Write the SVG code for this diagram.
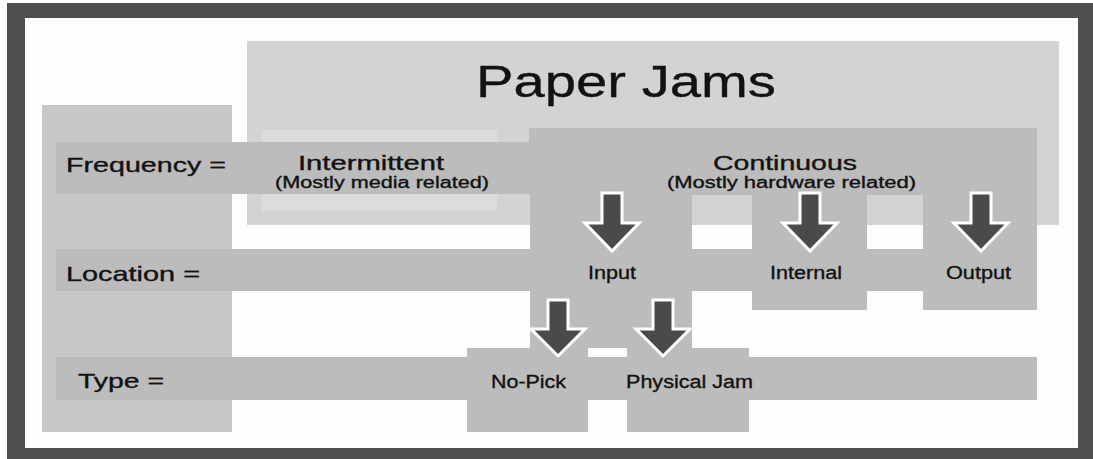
<svg xmlns="http://www.w3.org/2000/svg" width="1093" height="459" viewBox="0 0 1093 459">
  <defs>
    <style>
      .band { fill: #bcbcbc; }
      .col { fill: #bcbcbc; }
      .lbl { font-family: "Liberation Sans", Arial, sans-serif; fill: #121212; stroke: #121212; stroke-width: 0.35; }
      .row { font-size: 21px; }
      .big { font-size: 20px; }
      .sub { font-size: 16px; }
      .item { font-size: 18px; }
      .arrow { fill: #4a4a4a; stroke: #ffffff; stroke-width: 3; stroke-linejoin: miter; }
    </style>
  </defs>

  <g id="frame">
    <rect x="7" y="3" width="1086" height="456" fill="#4f4f4f"/>
    <rect x="25" y="18" width="1053" height="430" fill="#fdfdfd"/>
  </g>

  <g id="background">
    <rect x="247" y="41" width="812" height="184" fill="#d3d3d3"/>
    <rect x="262" y="130" width="235" height="81" fill="#dcdcdc"/>
    <rect x="42" y="105" width="190" height="327" fill="#c7c7c7"/>
  </g>

  <g id="title">
    <text class="lbl" x="476" y="97" font-size="45" stroke-width="0.2" textLength="300" lengthAdjust="spacingAndGlyphs">Paper Jams</text>
  </g>

  <g id="frequency-row">
    <rect class="band" x="56" y="142" width="981" height="52"/>
    <text class="lbl row" x="66" y="172" textLength="160" lengthAdjust="spacingAndGlyphs">Frequency =</text>
  </g>

  <g id="location-row">
    <rect class="band" x="56" y="249" width="981" height="42"/>
    <text class="lbl row" x="66" y="281" textLength="134" lengthAdjust="spacingAndGlyphs">Location =</text>
  </g>

  <g id="type-row">
    <rect class="band" x="56" y="357" width="981" height="43"/>
    <text class="lbl row" x="78" y="388" textLength="86" lengthAdjust="spacingAndGlyphs">Type =</text>
  </g>

  <g id="intermittent">
    <text class="lbl big" x="298" y="170" textLength="146" lengthAdjust="spacingAndGlyphs">Intermittent</text>
    <text class="lbl sub" x="275" y="188" textLength="214" lengthAdjust="spacingAndGlyphs">(Mostly media related)</text>
  </g>

  <g id="input">
    <rect class="col" x="530" y="128" width="162" height="220"/>
    <text class="lbl item" x="588" y="279" textLength="48" lengthAdjust="spacingAndGlyphs">Input</text>
  </g>

  <g id="internal">
    <rect class="col" x="752" y="128" width="115" height="182"/>
    <text class="lbl item" x="770" y="279" textLength="72" lengthAdjust="spacingAndGlyphs">Internal</text>
  </g>

  <g id="output">
    <rect class="col" x="923" y="128" width="114" height="182"/>
    <text class="lbl item" x="946" y="279" textLength="65" lengthAdjust="spacingAndGlyphs">Output</text>
  </g>

  <g id="continuous">
    <rect class="col" x="529" y="128" width="508" height="67"/>
    <text class="lbl big" x="713" y="170" textLength="144" lengthAdjust="spacingAndGlyphs">Continuous</text>
    <text class="lbl sub" x="667" y="188" textLength="249" lengthAdjust="spacingAndGlyphs">(Mostly hardware related)</text>
  </g>

  <g id="no-pick">
    <rect class="col" x="467" y="348" width="121" height="84"/>
    <text class="lbl item" x="491" y="388" textLength="75" lengthAdjust="spacingAndGlyphs">No-Pick</text>
  </g>

  <g id="physical-jam">
    <rect class="col" x="627" y="348" width="122" height="84"/>
    <text class="lbl item" x="626" y="388" textLength="127" lengthAdjust="spacingAndGlyphs">Physical Jam</text>
  </g>

  <g id="connectors">
    <path class="arrow" d="M602,193 H622 V223 H639 L612,251 L585,223 H602 Z"/>
    <path class="arrow" d="M800,193 H820 V223 H837 L810,251 L783,223 H800 Z"/>
    <path class="arrow" d="M971,193 H991 V223 H1008 L981,251 L954,223 H971 Z"/>
    <path class="arrow" d="M548,300 H568 V329 H585 L558,356 L531,329 H548 Z"/>
    <path class="arrow" d="M653,300 H673 V329 H690 L663,356 L636,329 H653 Z"/>
  </g>
</svg>
